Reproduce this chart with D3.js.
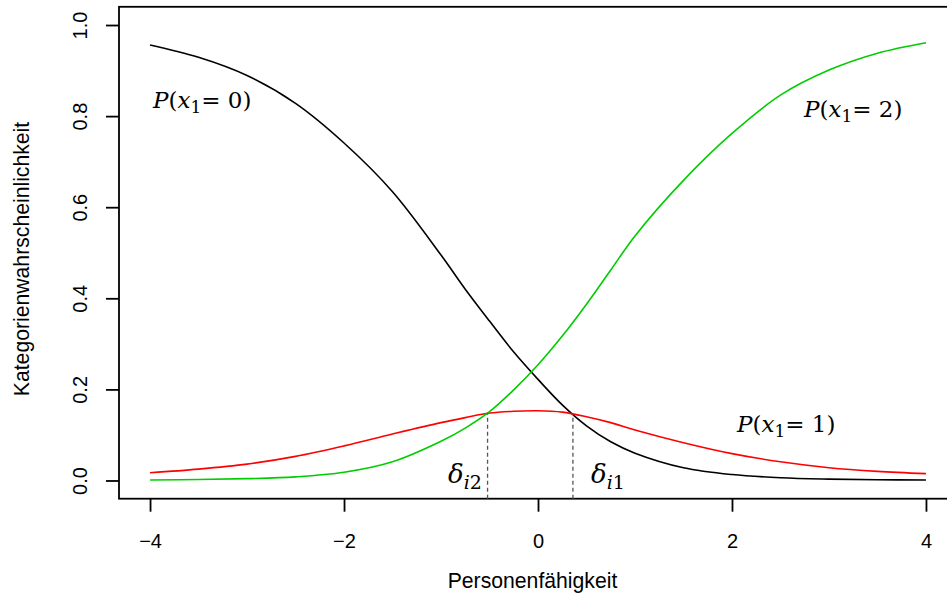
<!DOCTYPE html>
<html><head><meta charset="utf-8">
<script src="https://cdn.jsdelivr.net/npm/d3@7"></script>
<style>
html,body{margin:0;padding:0;background:#fff;overflow:hidden}
svg{display:block}
text{font-family:"Liberation Sans",Arial,sans-serif}
.ml{font-family:"DejaVu Serif","Liberation Serif",serif}
</style></head>
<body>
<svg id="c" width="947" height="595"></svg>
<script>
const theta = [-4,-3.5,-3,-2.5,-2,-1.5,-1,-0.75,-0.5,-0.25,0,0.25,0.5,0.75,1,1.5,2,2.5,3,3.5,4];
const p0 = [0.956,0.929,0.889,0.828,0.741,0.634,0.495,0.420,0.350,0.282,0.222,0.166,0.120,0.085,0.060,0.028,0.013,0.006,0.003,0.0015,0.001];
const p1 = [0.017,0.025,0.036,0.053,0.076,0.102,0.127,0.138,0.148,0.152,0.153,0.150,0.140,0.127,0.111,0.083,0.059,0.041,0.028,0.020,0.015];
const p2 = [0.001,0.002,0.004,0.008,0.018,0.041,0.086,0.115,0.151,0.199,0.254,0.317,0.387,0.462,0.537,0.659,0.762,0.846,0.901,0.938,0.961];
const xTicks = [-4,-2,0,2,4];
const yTicks = [0,0.2,0.4,0.6,0.8,1.0];
const deltaX = [-0.52, 0.36];
const deltaY = [0.148, 0.146];
const deltaSub = ["i2","i1"];

const svg = d3.select("#c");
const x = d3.scaleLinear().domain([-4.32,4.32]).range([119,957]);
const y = d3.scaleLinear().domain([-0.04,1.04]).range([498.7,6.8]);

// box
svg.append("rect").attr("x",119).attr("y",6.8).attr("width",838).attr("height",491.9)
  .attr("fill","none").attr("stroke","#000").attr("stroke-width",1.8);

// axes
const fmtX = d => d<0 ? "\u2212"+Math.abs(d) : String(d);
const xa = svg.append("g").attr("transform","translate(0,498.7)")
  .call(d3.axisBottom(x).tickValues(xTicks).tickSize(13).tickFormat(fmtX));
xa.select(".domain").remove();
xa.selectAll("line").attr("stroke-width",1.8);
xa.selectAll("text").attr("font-size",20).attr("fill","#000").attr("dy",0).attr("y",49);

const ya = svg.append("g").attr("transform","translate(119,0)")
  .call(d3.axisLeft(y).tickValues(yTicks).tickSize(13).tickFormat(d3.format(".1f")));
ya.select(".domain").remove();
ya.selectAll("line").attr("stroke-width",1.8);
ya.selectAll("text").attr("font-size",20).attr("fill","#000")
  .attr("x",null).attr("dy",null)
  .attr("transform","translate(-32,0) rotate(-90)").attr("text-anchor","middle");

// titles
svg.append("text").attr("x",532.5).attr("y",588).attr("text-anchor","middle")
  .attr("font-size",21.2).text("Personenfähigkeit");
svg.append("text").attr("transform","translate(29,259) rotate(-90)").attr("text-anchor","middle")
  .attr("font-size",21.2).text("Kategorienwahrscheinlichkeit");

// curves
const line = d3.line().x(d=>x(d[0])).y(d=>y(d[1])).curve(d3.curveCatmullRom.alpha(0.5));
const series = [[p0,"#000000"],[p1,"#FF0000"],[p2,"#00CD00"]];
series.forEach(([vals,col])=>{
  svg.append("path").datum(theta.map((t,i)=>[t,vals[i]]))
    .attr("d",line).attr("fill","none").attr("stroke",col).attr("stroke-width",1.6);
});

// dashed threshold lines
deltaX.forEach((dx,i)=>{
  svg.append("line").attr("x1",x(dx)).attr("x2",x(dx)).attr("y1",498.7).attr("y2",y(deltaY[i]))
    .attr("stroke","#555").attr("stroke-width",1.3).attr("stroke-dasharray","4,3");
});

// curve labels
function plabel(px,py,cat){
  const t = svg.append("text").attr("class","ml").attr("x",px).attr("y",py).attr("font-size",23);
  t.append("tspan").attr("font-style","italic").text("P");
  t.append("tspan").text("(");
  t.append("tspan").attr("font-style","italic").text("x");
  t.append("tspan").attr("font-size",17).attr("dy",5).text("1");
  t.append("tspan").attr("dy",-5).text("= "+cat+")");
}
plabel(153,108,"0");
plabel(804,117,"2");
plabel(737,432,"1");

// delta labels
const dlx = [448,591];
deltaX.forEach((dx,i)=>{
  const t = svg.append("text").attr("class","ml").attr("x",dlx[i]).attr("y",483).attr("font-size",26);
  t.append("tspan").attr("font-style","italic").text("\u03B4");
  t.append("tspan").attr("font-size",19).attr("dy",6).attr("font-style","italic").text(deltaSub[i][0]);
  t.append("tspan").attr("font-size",19).text(deltaSub[i][1]);
});
</script>
</body></html>
